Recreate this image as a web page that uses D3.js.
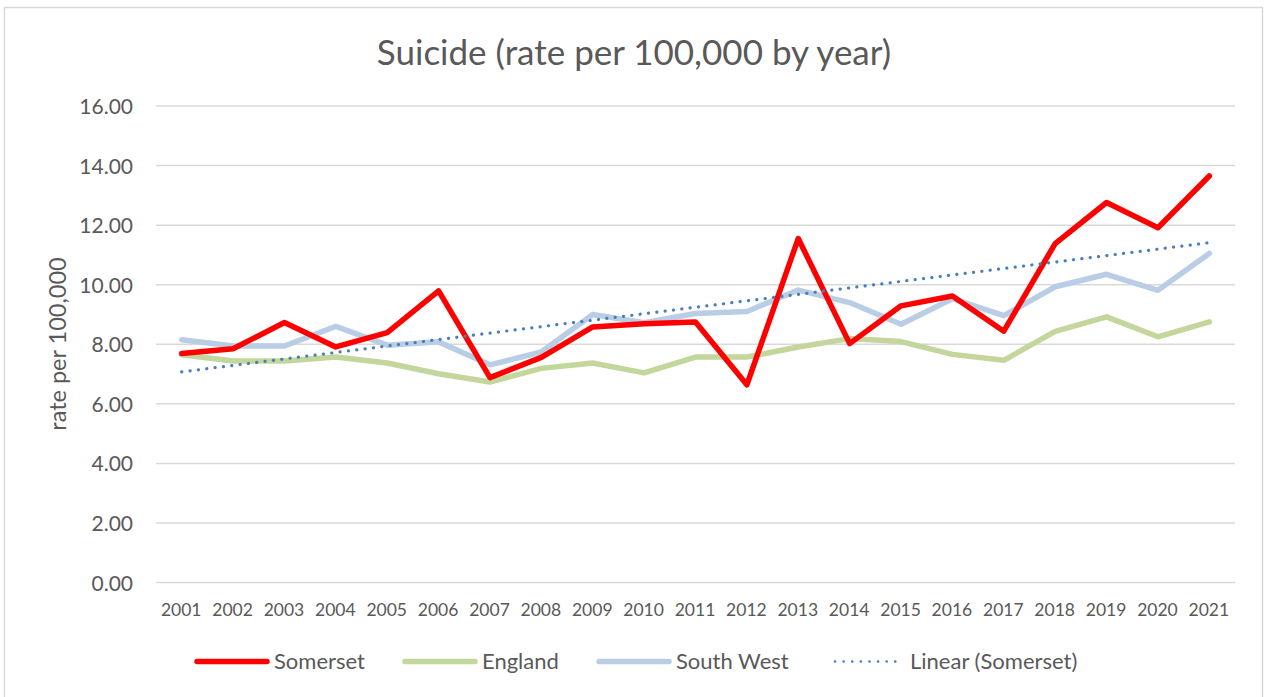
<!DOCTYPE html>
<html>
<head>
<meta charset="utf-8">
<script src="https://cdn.jsdelivr.net/npm/d3@7/dist/d3.min.js"></script>
<style>
  html, body { margin: 0; padding: 0; background: #ffffff; }
  svg { display: block; }
  text { font-family: Lato, "Open Sans", sans-serif; fill: #595959; }
</style>
</head>
<body>
<svg id="chart" width="1266" height="697"></svg>
<script>
// Suicide rates per 100,000 population, by registration year
const years = ["2001","2002","2003","2004","2005","2006","2007","2008","2009","2010","2011",
               "2012","2013","2014","2015","2016","2017","2018","2019","2020","2021"];
const somerset  = [7.69, 7.85, 8.73, 7.91, 8.39, 9.79, 6.88, 7.56, 8.58, 8.69, 8.75,
                   6.64, 11.55, 8.02, 9.29, 9.62, 8.44, 11.38, 12.76, 11.91, 13.65];
const england   = [7.65, 7.44, 7.44, 7.57, 7.37, 7.01, 6.73, 7.19, 7.37, 7.04, 7.57,
                   7.57, 7.91, 8.19, 8.09, 7.66, 7.46, 8.43, 8.92, 8.25, 8.75];
const southWest = [8.15, 7.94, 7.94, 8.60, 7.97, 8.08, 7.31, 7.74, 9.00, 8.72, 9.03,
                   9.10, 9.82, 9.40, 8.67, 9.53, 8.96, 9.93, 10.35, 9.81, 11.05];
const yTicks = [0, 2, 4, 6, 8, 10, 12, 14, 16];

const svg = d3.select("#chart");
const W = 1266, H = 697;
const plot = { left: 156, right: 1235, top: 106, bottom: 582.5 };

// chart area border
svg.append("rect")
  .attr("x", 4.5).attr("y", 7.5)
  .attr("width", W - 8).attr("height", H)
  .attr("fill", "#ffffff").attr("stroke", "#d9d9d9").attr("stroke-width", 1.5);

const x = d3.scalePoint().domain(years)
  .range([plot.left, plot.right]).padding(0.5);
const y = d3.scaleLinear().domain([0, 16]).range([plot.bottom, plot.top]);

// horizontal gridlines
svg.append("g")
  .selectAll("line").data(yTicks).join("line")
  .attr("x1", plot.left).attr("x2", plot.right)
  .attr("y1", d => y(d)).attr("y2", d => y(d))
  .attr("stroke", "#d9d9d9").attr("stroke-width", 1.5);

// y axis labels
const yAxis = d3.axisLeft(y).tickValues(yTicks).tickFormat(d3.format(".2f")).tickSize(0).tickPadding(0);
const gy = svg.append("g").attr("transform", `translate(${plot.left - 23},0)`).call(yAxis);
gy.select(".domain").remove();
gy.selectAll("text")
  .attr("font-size", 21).attr("font-family", "Lato, 'Open Sans', sans-serif")
  .attr("fill", "#595959").attr("dy", "0.36em").attr("x", 0);

// x axis labels
const xAxis = d3.axisBottom(x).tickSize(0).tickPadding(0);
const gx = svg.append("g").attr("transform", `translate(-1,616)`).call(xAxis);
gx.select(".domain").remove();
gx.selectAll("text")
  .attr("font-size", 17.5).attr("font-family", "Lato, 'Open Sans', sans-serif")
  .attr("fill", "#595959").attr("dy", 0).attr("y", 0);

// y axis title
svg.append("text")
  .attr("transform", `translate(66,344) rotate(-90)`)
  .attr("text-anchor", "middle")
  .attr("font-size", 23.5)
  .text("rate per 100,000");

// chart title
svg.append("text")
  .attr("x", 634).attr("y", 65)
  .attr("text-anchor", "middle")
  .attr("font-size", 35)
  .text("Suicide (rate per 100,000 by year)");

const line = d3.line().x((d, i) => x(years[i])).y(d => y(d));

const series = [
  { name: "England",    values: england,   color: "#c3d69b" },
  { name: "South West", values: southWest, color: "#b9cde5" },
  { name: "Somerset",   values: somerset,  color: "#ff0000" }
];

svg.append("g").selectAll("path").data(series).join("path")
  .attr("d", d => line(d.values))
  .attr("fill", "none")
  .attr("stroke", d => d.color)
  .attr("stroke-width", 5.5)
  .attr("stroke-linejoin", "round")
  .attr("stroke-linecap", "round");

// least-squares linear trend of the Somerset series
const idx = somerset.map((_, i) => i);
const mx = d3.mean(idx), my = d3.mean(somerset);
const slope = d3.sum(idx, i => (i - mx) * (somerset[i] - my)) / d3.sum(idx, i => (i - mx) ** 2);
const intercept = my - slope * mx;
const trend = idx.map(i => intercept + slope * i);

svg.append("path")
  .attr("d", line(trend))
  .attr("fill", "none")
  .attr("stroke", "#4a7ebb")
  .attr("stroke-width", 3.2)
  .attr("stroke-linecap", "round")
  .attr("stroke-dasharray", "0.1 8.3");

// legend
const legendItems = [
  { label: "Somerset",          color: "#ff0000", x: 197, dotted: false },
  { label: "England",           color: "#c3d69b", x: 405, dotted: false },
  { label: "South West",        color: "#b9cde5", x: 599, dotted: false },
  { label: "Linear (Somerset)", color: "#4a7ebb", x: 835, dotted: true }
];
const ly = 661.5;
const lg = svg.append("g").selectAll("g").data(legendItems).join("g");
lg.append("line")
  .attr("x1", d => d.x).attr("x2", d => d.dotted ? d.x + 68 : d.x + 70)
  .attr("y1", ly).attr("y2", ly)
  .attr("stroke", d => d.color)
  .attr("stroke-width", d => d.dotted ? 2.6 : 5.5)
  .attr("stroke-linecap", "round")
  .attr("stroke-dasharray", d => d.dotted ? "0.1 8.5" : null);
lg.append("text")
  .attr("x", d => d.dotted ? d.x + 75 : d.x + 77).attr("y", 668.5)
  .attr("font-size", 22)
  .text(d => d.label);
</script>
</body>
</html>
